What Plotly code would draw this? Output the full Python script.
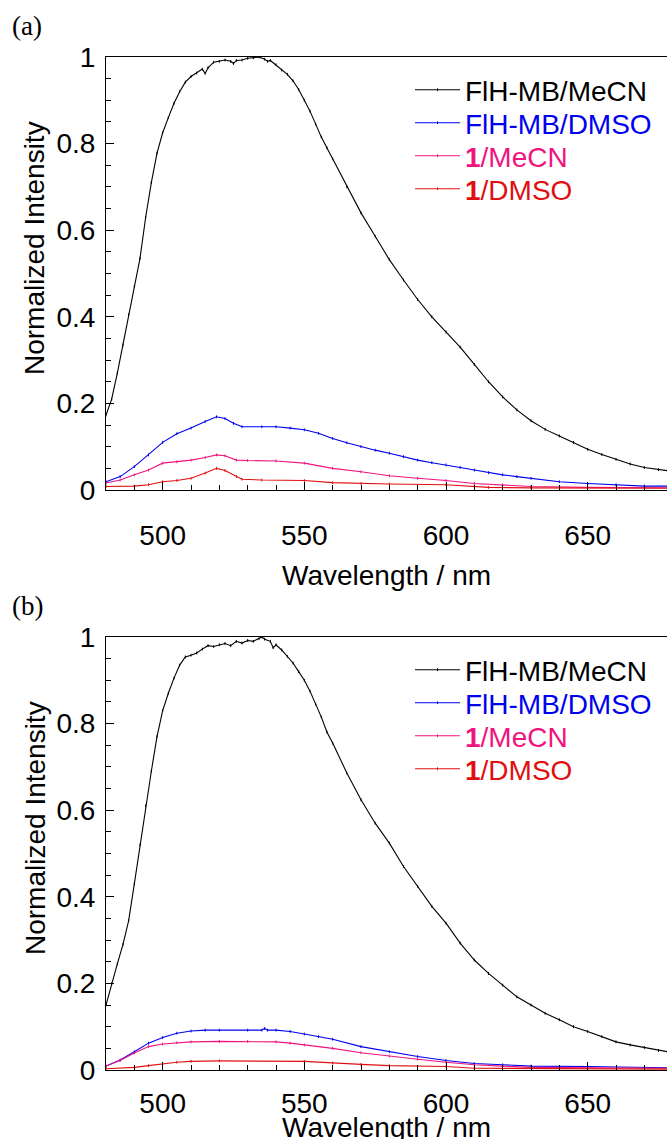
import plotly.graph_objects as go

# ---------------- data ----------------
wl_a_black = [480, 482, 484, 486, 488, 490, 492, 494, 496, 498, 500, 502, 504, 506, 508, 510, 512, 514, 515,
              516, 518, 520, 522, 524, 525, 526, 528, 530, 532, 534, 536, 537, 538, 540, 542, 544, 546, 548,
              550, 552, 554, 556, 558, 560, 565, 570, 575, 580, 585, 590, 595, 600, 605, 610, 615, 620, 625,
              630, 635, 640, 645, 650, 655, 660, 665, 670, 675, 680]
a_black = [0.173, 0.21, 0.27, 0.335, 0.405, 0.47, 0.535, 0.63, 0.71, 0.778, 0.825, 0.86, 0.893, 0.92, 0.942,
           0.955, 0.963, 0.972, 0.962, 0.975, 0.988, 0.99, 0.993, 0.99, 0.985, 0.992, 0.993, 0.997, 0.998, 1.0,
           0.995, 0.99, 0.992, 0.982, 0.97, 0.96, 0.945, 0.925, 0.9, 0.875, 0.845, 0.815, 0.79, 0.765, 0.7, 0.64,
           0.586, 0.532, 0.485, 0.44, 0.4, 0.365, 0.33, 0.29, 0.25, 0.215, 0.185, 0.16, 0.14, 0.125, 0.11,
           0.094, 0.082, 0.071, 0.06, 0.052, 0.047, 0.043]

wl_a_blue = [480, 485, 490, 495, 500, 505, 510, 515, 519, 522, 525, 528, 535, 540, 545, 550, 555, 560, 565,
             570, 575, 580, 585, 590, 595, 600, 605, 610, 615, 620, 625, 630, 640, 650, 660, 670, 680]
a_blue = [0.019, 0.031, 0.054, 0.081, 0.11, 0.13, 0.143, 0.158, 0.169, 0.165, 0.154, 0.146, 0.146, 0.146,
          0.143, 0.139, 0.131, 0.119, 0.109, 0.1, 0.092, 0.085, 0.077, 0.069, 0.063, 0.058, 0.052, 0.046,
          0.04, 0.035, 0.031, 0.027, 0.019, 0.015, 0.012, 0.009, 0.009]

wl_a_pink = [480, 485, 490, 495, 500, 505, 510, 515, 519, 522, 526, 530, 540, 550, 560, 570, 580, 590, 600,
             610, 620, 630, 650, 680]
a_pink = [0.016, 0.023, 0.035, 0.046, 0.062, 0.065, 0.069, 0.075, 0.081, 0.079, 0.069, 0.068, 0.067, 0.062,
          0.05, 0.042, 0.033, 0.027, 0.022, 0.015, 0.012, 0.008, 0.006, 0.005]

wl_a_red = [480, 490, 495, 500, 505, 510, 515, 519, 522, 526, 528, 535, 550, 560, 570, 580, 600, 610, 615,
            630, 680]
a_red = [0.008, 0.009, 0.012, 0.019, 0.022, 0.027, 0.039, 0.05, 0.045, 0.031, 0.025, 0.023, 0.022, 0.017,
         0.015, 0.014, 0.012, 0.009, 0.006, 0.005, 0.004]

wl_b_black = [480, 482, 484, 486, 488, 490, 492, 494, 496, 498, 500, 502, 504, 506, 508, 510, 512, 514, 516,
              518, 520, 522, 524, 526, 528, 530, 532, 534, 535, 536, 538, 539, 540, 542, 544, 546, 548, 550,
              552, 554, 556, 558, 560, 565, 570, 575, 580, 585, 590, 595, 600, 605, 610, 615, 620, 625, 630,
              635, 640, 645, 650, 655, 660, 665, 670, 675, 680]
b_black = [0.15, 0.2, 0.245, 0.29, 0.345, 0.43, 0.52, 0.61, 0.69, 0.77, 0.83, 0.87, 0.905, 0.935, 0.954,
           0.958, 0.963, 0.972, 0.98, 0.978, 0.982, 0.985, 0.98, 0.99, 0.986, 0.992, 0.99, 0.996, 1.0, 0.995,
           0.99, 0.975, 0.982, 0.97, 0.955, 0.94, 0.92, 0.9, 0.875, 0.845, 0.815, 0.78, 0.755, 0.686, 0.624,
           0.57, 0.524, 0.47, 0.424, 0.378, 0.339, 0.293, 0.254, 0.223, 0.196, 0.169, 0.15, 0.131, 0.116,
           0.1, 0.089, 0.077, 0.065, 0.058, 0.052, 0.045, 0.04]

wl_b_blue = [480, 485, 490, 495, 500, 505, 510, 515, 520, 530, 535, 536, 537, 540, 545, 550, 555, 560, 570,
             580, 590, 600, 610, 620, 630, 650, 680]
b_blue = [0.009, 0.023, 0.042, 0.062, 0.075, 0.085, 0.09, 0.092, 0.092, 0.092, 0.092, 0.096, 0.092, 0.092,
          0.089, 0.083, 0.077, 0.071, 0.054, 0.042, 0.031, 0.022, 0.015, 0.012, 0.009, 0.008, 0.005]

wl_b_pink = [480, 485, 490, 495, 500, 505, 510, 520, 530, 540, 545, 550, 560, 570, 580, 590, 600, 610, 620,
             630, 680]
b_pink = [0.009, 0.022, 0.039, 0.054, 0.06, 0.063, 0.065, 0.066, 0.066, 0.065, 0.062, 0.058, 0.05, 0.04,
          0.032, 0.025, 0.018, 0.012, 0.009, 0.006, 0.004]

wl_b_red = [480, 490, 495, 500, 505, 510, 520, 550, 560, 570, 580, 600, 610, 680]
b_red = [0.003, 0.006, 0.01, 0.014, 0.018, 0.02, 0.021, 0.02, 0.016, 0.013, 0.01, 0.008, 0.004, 0.002]

series_names = ["FlH-MB/MeCN", "FlH-MB/DMSO", "<b>1</b>/MeCN", "<b>1</b>/DMSO"]
series_colors = ["#000000", "#0000ee", "#f0147f", "#e01010"]
panel_labels = ["(a)", "(b)"]
x_ticks = [500, 550, 600, 650]
y_ticks = [0, 0.2, 0.4, 0.6, 0.8, 1]
y_ticktext = ["0", "0.2", "0.4", "0.6", "0.8", "1"]

# ---------------- figure ----------------
W, H = 667, 1139
FONT = "Liberation Sans, Arial, sans-serif"

def py(p):
    return 1 - p / H

fig = go.Figure()

panels = [
    ([(wl_a_black, a_black), (wl_a_blue, a_blue), (wl_a_pink, a_pink), (wl_a_red, a_red)], "x", "y", 57, 490),
    ([(wl_b_black, b_black), (wl_b_blue, b_blue), (wl_b_pink, b_pink), (wl_b_red, b_red)], "x2", "y2", 637, 1070),
]

leg_idx = 0
legend_layout = {}
for pi, (series, xa, ya, top, bot) in enumerate(panels):
    for si, (xs, ys) in enumerate(series):
        leg_idx += 1
        lname = "legend" if leg_idx == 1 else f"legend{leg_idx}"
        fig.add_trace(go.Scatter(
            x=xs, y=ys, mode="lines+markers", name=series_names[si],
            line=dict(color=series_colors[si], width=1.1),
            marker=dict(symbol="line-ns", size=2, line=dict(width=1, color=series_colors[si]),
                        color=series_colors[si]),
            xaxis=xa, yaxis=ya, legend=lname, showlegend=True,
        ))
        ycenter = top + 33 + 33 * si
        legend_layout[lname] = dict(
            x=410 / W, y=py(ycenter), xanchor="left", yanchor="middle",
            font=dict(family=FONT, size=28, color=series_colors[si]),
            bgcolor="rgba(0,0,0,0)", borderwidth=0, itemwidth=45,
        )

x0 = 106 / W
axis_common_x = dict(
    range=[480, 678], tickvals=x_ticks, ticks="inside", ticklen=8, tickwidth=1, tickcolor="black",
    showline=True, linecolor="black", linewidth=1, mirror=True, showgrid=False, zeroline=False,
    automargin=False,
    tickfont=dict(family=FONT, size=28, color="black"),
    minor=dict(dtick=10, tick0=480, ticks="inside", ticklen=5, tickcolor="black", tickwidth=1, showgrid=False),
)
axis_common_y = dict(
    range=[0, 1], tickvals=y_ticks, ticktext=y_ticktext,
    ticks="inside", ticklen=8, tickwidth=1, tickcolor="black",
    showline=True, linecolor="black", linewidth=1, mirror=False, showgrid=False, zeroline=False,
    automargin=False,
    tickfont=dict(family=FONT, size=28, color="black"), ticklabelstandoff=4,
    minor=dict(dtick=0.05, tick0=0, ticks="inside", ticklen=5, tickcolor="black", tickwidth=1, showgrid=False),
)

fig.update_layout(
    template="none",
    width=W, height=H, margin=dict(l=0, r=0, t=0, b=0, pad=0, autoexpand=False),
    paper_bgcolor="white", plot_bgcolor="white",
    xaxis=dict(domain=[x0, 1], anchor="y", ticklabelstandoff=20, **axis_common_x),
    yaxis=dict(domain=[py(490), py(57)], anchor="x", **axis_common_y),
    xaxis2=dict(domain=[x0, 1], anchor="y2", ticklabelstandoff=8, **axis_common_x),
    yaxis2=dict(domain=[py(1070), py(637)], anchor="x2", **axis_common_y),
    **legend_layout,
)

annotations = []
title_offsets = [85, 57]
for pi, (top, bot) in enumerate([(57, 490), (637, 1070)]):
    annotations.append(dict(text=panel_labels[pi], x=10 / W, y=py(top - 31), xref="paper", yref="paper",
                            xanchor="left", yanchor="middle", showarrow=False,
                            font=dict(family="Liberation Serif, Times New Roman, serif", size=27, color="black")))
    annotations.append(dict(text="Normalized Intensity", x=35 / W, y=py(top + 191), xref="paper", yref="paper",
                            xanchor="center", yanchor="middle", showarrow=False, textangle=-90,
                            font=dict(family=FONT, size=28, color="black")))
    annotations.append(dict(text="Wavelength / nm", x=386 / W, y=py(bot + title_offsets[pi]), xref="paper",
                            yref="paper", xanchor="center", yanchor="middle", showarrow=False,
                            font=dict(family=FONT, size=28, color="black")))
fig.update_layout(annotations=annotations)

fig.write_html("out.html")
